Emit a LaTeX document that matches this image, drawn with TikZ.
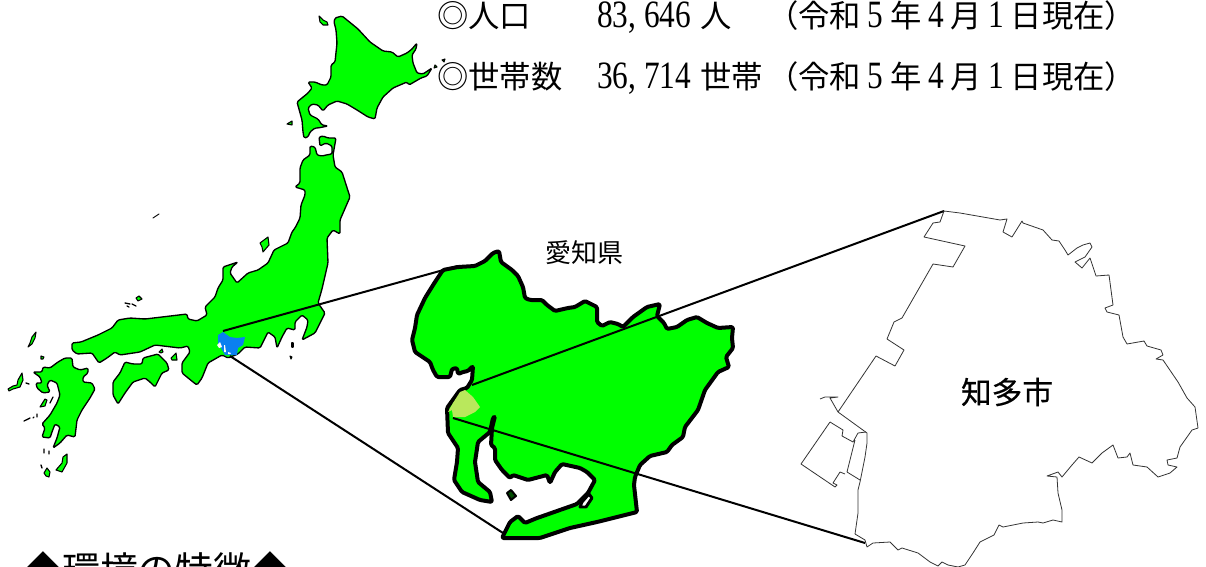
\documentclass[tikz,border=0pt]{standalone}
\usepackage{graphicx}
\usepackage{fontspec}
\setmainfont{Liberation Serif}
\newfontfamily\cjk{Noto Sans CJK JP}
\newfontfamily\cjkm[FakeBold=0.5]{Noto Sans CJK JP}
\newcommand{\J}[1]{{\cjk #1}}
\newcommand{\Dg}[1]{\scalebox{.81}[1]{\fontsize{29}{31}\selectfont #1}}
\newcommand{\Cm}{\makebox[11.75pt][l]{\Dg{,}}}
\definecolor{landgreen}{HTML}{00FF00}
\definecolor{aichiblue}{HTML}{0A80F0}
\definecolor{chitayellow}{HTML}{B9E85C}
\tikzset{
 land/.style={fill=landgreen,draw=black,line width=1pt,line join=round,rounded corners=1pt},
 aichi/.style={fill=landgreen,draw=black,line width=3pt,line join=round,rounded corners=1pt},
 isle/.style={fill=landgreen,draw=black,line width=.8pt,line join=round},
 speck/.style={draw=black,line width=1pt,line cap=round},
 cityline/.style={draw=black!80,line width=.6pt,line join=round},
 zoomline/.style={draw=black,line width=1.5pt},
 stat/.style={anchor=base west,inner sep=0pt,font=\fontsize{23.5}{26}\selectfont},
}
\begin{document}
\begin{tikzpicture}[x=.75pt,y=-.75pt]
\useasboundingbox (0,0) rectangle (1206,567);
% Hokkaido
\path[land] (335,18)--(342,16)--(347,20)--(358,29)--(370,42)--(383,51)--(392,52)--(398,57)--(407,53)--(412,49)--(417,43)--(416,49)--(412,55)--(413,63)--(417,73)--(423,74)--(432,68)--(427,76)--(421,78)--(409,85)--(407,82)--(393,88)--(383,97)--(377,108)--(375,119)--(368,117)--(357,110)--(347,104)--(337,101)--(328,105)--(323,111)--(318,105)--(312,104)--(308,108)--(310,115)--(318,119)--(322,125)--(328,126)--(318,128)--(315,128)--(310,132)--(308,137)--(304,138)--(303,132)--(302,120)--(297,102)--(308,93)--(312,88)--(308,82)--(315,82)--(322,85)--(327,85)--(331,77)--(331,65)--(335,62)--(337,43)--(336,30)--(334,22)--cycle;
\path[isle] (319,16)--(323,20)--(327,22)--(328,25)--(323,25)--(320,22)--cycle;
\path[isle] (287,124)--(292,121)--(292,125)--cycle;
\path[isle] (435,65)--(437,67)--(434,68)--cycle;
\path[isle] (442,60)--(445,59)--(444,62)--cycle;
% Honshu
\path[land] (310,146)--(315,147)--(317,155)--(322,156)--(326,155)--(332,154)--(332,146)--(326,143)--(320,146)--(319,137)--(323,136)--(328,138)--(336,138)--(333,155)--(335,167)--(342,172)--(350,197)--(340,220)--(340,234)--(333,230)--(327,238)--(328,263)--(322,289)--(318,303)--(325,313)--(315,333)--(302,340)--(307,327)--(308,320)--(302,315)--(295,322)--(295,330)--(287,328)--(282,337)--(277,348)--(275,337)--(268,332)--(260,348)--(245,347)--(238,354)--(228,358)--(222,355)--(208,363)--(202,378)--(197,385)--(193,382)--(182,373)--(182,363)--(190,352)--(188,346)--(180,348)--(155,345)--(140,352)--(120,355)--(115,352)--(107,358)--(99,363)--(92,353)--(77,354)--(72,350)--(72,343)--(81,342)--(98,335)--(112,328)--(118,320)--(130,318)--(145,319)--(162,317)--(187,314)--(188,319)--(197,321)--(207,315)--(205,307)--(215,297)--(218,288)--(223,280)--(223,267)--(238,262)--(232,267)--(230,273)--(237,283)--(248,273)--(258,270)--(268,263)--(274,250)--(288,243)--(292,232)--(295,228)--(300,218)--(301,205)--(305,195)--(305,190)--(295,187)--(300,183)--(300,168)--(303,160)--(310,155)--cycle;
\path[isle] (260,243)--(268,237)--(269,245)--(263,252)--(262,247)--cycle;
\path[isle] (136,298)--(139,296)--(142,299)--(138,301)--cycle;
\path[isle] (292,343)--(293,343)--(293,347)--(292,347)--cycle;
\path[isle] (290,356)--(292,357)--(291,359)--cycle;
\path[isle] (159,352)--(162,349)--(163,352)--(161,353)--cycle;
\path[isle] (171,358)--(176,353)--(177,360)--(172,360)--cycle;
\draw[speck] (125,303)--(130,304) (132,304)--(136,306) (127,306)--(129,307);
\draw[speck,line width=.7pt] (153,218)--(159,214);
% Shikoku
\path[land] (125,362)--(133,364)--(142,364)--(143,358)--(158,354)--(167,363)--(169,370)--(162,373)--(155,387)--(150,382)--(145,378)--(133,382)--(125,393)--(118,404)--(113,395)--(113,382)--(120,373)--cycle;
% Kyushu
\path[land] (33,372)--(42,372)--(43,367)--(50,368)--(58,362)--(65,358)--(72,358)--(73,367)--(80,370)--(88,368)--(88,373)--(83,377)--(83,382)--(92,383)--(95,389)--(90,398)--(82,410)--(77,420)--(75,437)--(67,435)--(60,443)--(53,448)--(57,438)--(60,427)--(55,424)--(52,432)--(50,438)--(42,437)--(45,428)--(42,424)--(50,415)--(57,403)--(60,395)--(57,383)--(50,380)--(47,385)--(50,392)--(43,393)--(37,388)--(36,383)--(42,383)--(40,377)--cycle;
\path[isle] (28,347)--(30,343)--(32,337)--(36,332)--(35,338)--(32,344)--cycle;
\path[isle] (41,356)--(44,357)--(43,359)--(41,359)--cycle;
\path[isle] (8,389)--(13,386)--(17,385)--(18,380)--(22,373)--(23,380)--(20,387)--(13,389)--(9,391)--cycle;
\path[isle] (40,407)--(45,399)--(47,400)--(45,406)--cycle;
\path[isle] (56,470)--(62,463)--(63,457)--(67,454)--(67,463)--(62,472)--cycle;
\path[isle] (44,473)--(47,468)--(50,472)--(49,477)--(46,476)--cycle;
\draw[speck] (50,403)--(53,397) (24,421)--(30,418) (33,418)--(34,417) (37,414)--(37,417) (44,449)--(44,453) (49,451)--(49,454) (41,465)--(42,468) (26,383)--(29,384);
% Aichi on the national map
\path[fill=aichiblue] (218,335)--(223,332)--(230,337)--(237,338)--(245,337)--(243,345)--(238,348)--(237,355)--(225,355)--(222,350)--(218,343)--cycle;
\path[fill=white] (217,345)--(220,342)--(222,347)--(219,348)--cycle (224,345)--(225,345)--(226,352)--(224,352)--cycle (228,352)--(231,353)--(230,354)--(228,354)--cycle;
% Aichi prefecture
\path[aichi] (443,270)--(458,267)--(475,266)--(485,261)--(493,253)--(499,251)--(501,262)--(512,270)--(518,276)--(523,287)--(525,298)--(530,300)--(542,300)--(547,305)--(555,311)--(568,308)--(575,307)--(585,301)--(597,307)--(597,322)--(602,326)--(610,322)--(618,324)--(623,327)--(633,317)--(647,307)--(660,304)--(657,316)--(664,323)--(667,329)--(677,327)--(687,320)--(697,317)--(707,323)--(718,328)--(733,327)--(732,338)--(733,348)--(726,357)--(729,367)--(718,372)--(705,390)--(698,410)--(685,427)--(683,437)--(672,445)--(667,452)--(650,456)--(640,465)--(635,477)--(634,485)--(637,512)--(617,517)--(597,522)--(570,528)--(540,538)--(502,538)--(510,522)--(518,516)--(525,523)--(537,518)--(540,517)--(577,504)--(588,493)--(595,480)--(587,472)--(580,468)--(562,464)--(555,472)--(550,483)--(547,475)--(528,480)--(513,475)--(510,478)--(502,470)--(495,460)--(495,448)--(491,445)--(492,428)--(495,416)--(493,418)--(490,432)--(478,442)--(475,462)--(478,482)--(490,492)--(492,502)--(480,500)--(462,492)--(454,480)--(457,462)--(458,448)--(448,433)--(447,408)--(460,390)--(467,388)--(472,380)--(473,366)--(468,371)--(463,372)--(458,374)--(457,368)--(452,369)--(450,377)--(437,377)--(433,370)--(430,362)--(415,352)--(412,340)--(415,328)--(417,315)--(425,298)--(435,282)--cycle;
\path[fill=white,draw=black,line width=2.2pt,line join=round] (580,507)--(586,507)--(592,498)--(589,494)--(582,502)--cycle;
\path[fill=black!70!landgreen,draw=black,line width=1.5pt,line join=round] (507,493)--(511,490)--(516,496)--(511,500)--cycle;
\path[fill=chitayellow] (465,390)--(473,397)--(480,407)--(475,412)--(465,417)--(453,417)--(452,410)--(448,412)--(453,403)--(460,392)--cycle;
% Zoom lines
\coordinate (jpTop) at (223,331);
\coordinate (jpBot) at (230,356);
\coordinate (aiTop) at (458,266);
\coordinate (aiBot) at (503,533);
\coordinate (chTop) at (472,385);
\coordinate (chBot) at (453,418);
\coordinate (cityTop) at (944,211);
\coordinate (cityBot) at (865,543);
\draw[zoomline] (jpTop)--(aiTop);
\draw[zoomline] (jpBot)--(aiBot);
\draw[zoomline] (chTop)--(cityTop);
\draw[zoomline] (chBot)--(cityBot);
% Chita city
\path[cityline] (944,211)--(960,213)--(1000,220)--(1007,219)--(1003,232)--(1012,237)--(1022,221)--(1023,223)--(1043,230)--(1052,240)--(1059,241)--(1065,250)--(1068,255)--(1077,248)--(1083,245)--(1090,243)--(1092,247)--(1085,257)--(1075,262)--(1082,268)--(1090,258)--(1096,276)--(1109,275)--(1113,305)--(1105,308)--(1107,312)--(1119,315)--(1123,337)--(1127,344)--(1144,341)--(1147,346)--(1161,350)--(1163,355)--(1156,359)--(1163,360)--(1178,382)--(1187,398)--(1195,407)--(1198,428)--(1192,430)--(1180,447)--(1177,458)--(1167,460)--(1168,465)--(1177,467)--(1170,473)--(1158,477)--(1147,467)--(1133,465)--(1130,453)--(1127,457)--(1118,458)--(1113,445)--(1102,453)--(1092,463)--(1079,457)--(1072,465)--(1062,477)--(1058,472)--(1047,476)--(1057,477)--(1058,493)--(1062,510)--(1062,522)--(1053,520)--(1043,523)--(1038,522)--(1023,523)--(1003,527)--(999,525)--(994,535)--(980,542)--(973,553)--(965,565)--(958,567)--(948,565)--(942,562)--(938,566)--(930,562)--(918,553)--(902,548)--(898,550)--(890,542)--(873,543)--(867,547)--(865,540)--(855,534)--(858,513)--(858,490)--(860,482)--(865,457)--(867,443)--(867,433)--(838,412)--(876,356)--(895,366)--(904,350)--(887,339)--(894,322)--(902,318)--(933,264)--(953,267)--(965,246)--(924,237)--(933,223)--(940,222)--cycle;
\path[cityline] (830,422)--(843,430)--(842,436)--(853,442)--(858,433)--(866,432) (855,440)--(847,472)--(860,480) (845,474)--(840,472)--(833,483)--(837,485)--(835,487)--(801,464)--(830,422);
\path[cityline] (838,412)--(830,398)--(838,397)--(825,397)--(820,399);
% Texts
\node[stat] (popLabel) at (437,28) {\J{◎人口}};
\node[stat] (popValue) at (597,28) {\Dg{83}\Cm\Dg{646}\hspace{7pt}\J{人}};
\node[stat] (popDate) at (767,28) {\J{（令和}\hspace{5pt}\Dg{5}\hspace{5pt}\J{年}\hspace{5pt}\Dg{4}\hspace{5pt}\J{月}\hspace{5pt}\Dg{1}\hspace{5pt}\J{日現在）}};
\node[stat] (hhLabel) at (437,89) {\J{◎世帯数}};
\node[stat] (hhValue) at (597,89) {\Dg{36}\Cm\Dg{714}\hspace{7pt}\J{世帯}};
\node[stat] (hhDate) at (767,89) {\J{（令和}\hspace{5pt}\Dg{5}\hspace{5pt}\J{年}\hspace{5pt}\Dg{4}\hspace{5pt}\J{月}\hspace{5pt}\Dg{1}\hspace{5pt}\J{日現在）}};
\node[inner sep=0pt,font=\cjk\fontsize{19.5}{22}\selectfont] (pref) at (584,253) {愛知県};
\node[inner sep=0pt,font=\cjkm\fontsize{23}{26}\selectfont] (city) at (1007,392) {知多市};
\node[anchor=west,inner sep=0pt,font=\cjk\fontsize{28.4}{32}\selectfont] (env) at (24,570) {◆環境の特徴◆};
\end{tikzpicture}
\end{document}
